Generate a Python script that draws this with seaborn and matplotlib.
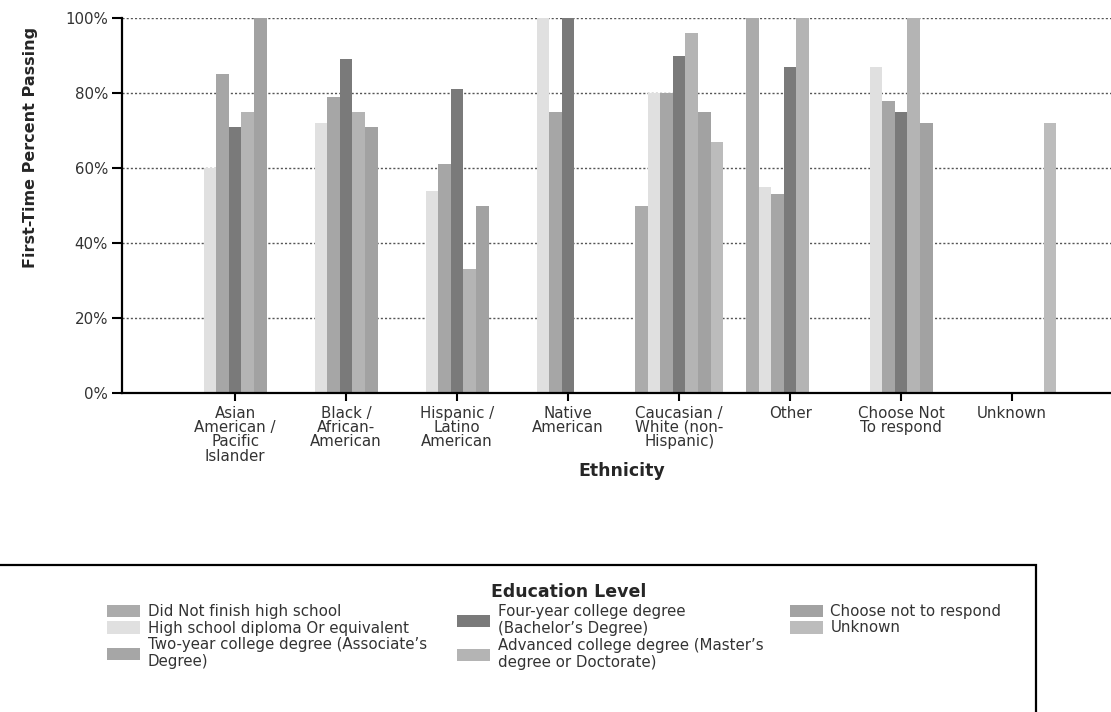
import numpy as np
import pandas as pd
import matplotlib.pyplot as plt
import seaborn as sns
from matplotlib.patches import Patch, Rectangle
from matplotlib.ticker import FuncFormatter

sns.set_style('white')
plt.rcParams['font.family'] = ['DejaVu Sans']

ethnicity = ['Asian\nAmerican /\nPacific\nIslander', 'Black /\nAfrican-\nAmerican',
             'Hispanic /\nLatino\nAmerican', 'Native\nAmerican',
             'Caucasian /\nWhite (non-\nHispanic)', 'Other',
             'Choose Not\nTo respond', 'Unknown']
levels = ['Did Not finish high school',
          'High school diploma Or equivalent',
          'Two-year college degree (Associate\u2019s\nDegree)',
          'Four-year college degree\n(Bachelor\u2019s Degree)',
          'Advanced college degree (Master\u2019s\ndegree or Doctorate)',
          'Choose not to respond',
          'Unknown']

nan = np.nan
# percent passing per ethnicity, one list per education level
did_not_finish = [nan, nan, nan, nan, 50, 100, nan, nan]
high_school    = [60, 72, 54, 100, 80, 55, 87, nan]
two_year       = [85, 79, 61, 75, 80, 53, 78, nan]
four_year      = [71, 89, 81, 100, 90, 87, 75, nan]
advanced       = [75, 75, 33, nan, 96, 100, 100, nan]
choose_not     = [100, 71, 50, nan, 75, nan, 72, nan]
unknown        = [nan, nan, nan, nan, 67, nan, nan, 72]

colors = ['#ababab', '#e0e0e0', '#a6a6a6', '#7a7a7a', '#b4b4b4', '#a2a2a2', '#bcbcbc']

series = [did_not_finish, high_school, two_year, four_year, advanced, choose_not, unknown]
rows = []
for lvl, vals in zip(levels, series):
    for eth, v in zip(ethnicity, vals):
        rows.append({'ethnicity': eth, 'level': lvl, 'pct': v})
df = pd.DataFrame(rows).dropna()

fig = plt.figure(figsize=(11.11, 7.12), dpi=100)
ax = fig.add_axes([122/1111, 1-393/712, (1111-122)/1111, (393-18)/712])

sns.barplot(data=df, x='ethnicity', y='pct', hue='level', order=ethnicity,
            hue_order=levels, palette=colors, width=0.79, gap=0, saturation=1,
            errorbar=None, legend=False, linewidth=0, ax=ax)

ax.set_xlim(-1.02, 7.89)
ax.set_ylim(0, 100)
ax.set_yticks(range(0, 101, 20))
ax.yaxis.set_major_formatter(FuncFormatter(lambda v, p: f'{v:.0f}%'))
ax.set_axisbelow(True)
ax.yaxis.grid(True, linestyle=(0, (1.5, 1.5)), color='#555555', lw=1)
ax.xaxis.grid(False)

for s in ['top', 'right']:
    ax.spines[s].set_visible(False)
for s in ['left', 'bottom']:
    ax.spines[s].set_color('black')
    ax.spines[s].set_linewidth(1.6)

ax.tick_params(axis='y', length=7, width=1.5, colors='black', labelcolor='#333333', labelsize=10.8, pad=3, left=True)
ax.tick_params(axis='x', length=6, width=1.5, colors='black', labelcolor='#333333', labelsize=10.8, pad=3, bottom=True)
for t in ax.get_xticklabels():
    t.set_linespacing(0.95)

ax.set_xlabel('Ethnicity', fontsize=12.5, fontweight='bold')
ax.xaxis.set_label_coords(0.505, -0.185)
ax.set_ylabel('First-Time Percent Passing', fontsize=11.5, fontweight='bold')
ax.yaxis.set_label_coords(-0.085, 0.656)

# legend box, cut off at the left and bottom like the scan
fig.patches.append(Rectangle((-5/1111, -20/712), 1041/1111, (712-565+20)/712,
                             transform=fig.transFigure, fill=False, ec='black', lw=1.6))
fig.text(569/1111, 1-592/712, 'Education Level', fontsize=12.5, fontweight='bold',
         ha='center', va='center')

# three legend columns, each hung from the same top line
handles = [Patch(facecolor=c, edgecolor='none') for c in colors]
columns = [[0, 1, 2], [3, 4], [5, 6]]
col_x = [107, 457, 790]
for idx, x in zip(columns, col_x):
    leg = fig.legend([handles[i] for i in idx], [levels[i] for i in idx],
                     loc='upper left', bbox_to_anchor=(x/1111, 1-604/712),
                     frameon=False, fontsize=10.8, handlelength=2.2, handleheight=0.9,
                     handletextpad=0.5, labelspacing=0.1,
                     borderpad=0, borderaxespad=0, labelcolor='#333333')

fig.savefig('out.png', dpi=100)
